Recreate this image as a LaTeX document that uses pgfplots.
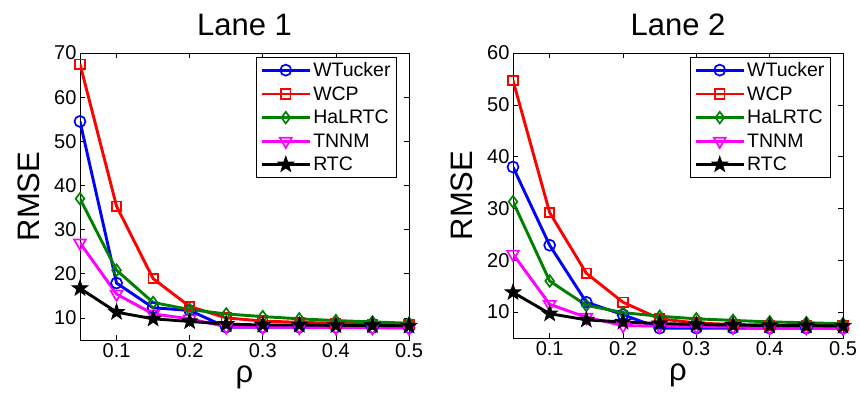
\documentclass[border=0pt]{standalone}
\usepackage{fontspec}
\setmainfont{Liberation Sans}
\usepackage{pgfplots}
\pgfplotsset{compat=1.18}
\definecolor{mgreen}{rgb}{0,0.5,0}
\definecolor{mblue}{rgb}{0,0,1}
\definecolor{mred}{rgb}{1,0,0}
\definecolor{mmag}{rgb}{1,0,1}
\pgfdeclareplotmark{fstar}{%
  \pgfpathmoveto{\pgfpointpolar{90}{1.5\pgfplotmarksize}}%
  \pgfpathlineto{\pgfpointpolar{126}{0.6\pgfplotmarksize}}%
  \pgfpathlineto{\pgfpointpolar{162}{1.5\pgfplotmarksize}}%
  \pgfpathlineto{\pgfpointpolar{198}{0.6\pgfplotmarksize}}%
  \pgfpathlineto{\pgfpointpolar{234}{1.5\pgfplotmarksize}}%
  \pgfpathlineto{\pgfpointpolar{270}{0.6\pgfplotmarksize}}%
  \pgfpathlineto{\pgfpointpolar{306}{1.5\pgfplotmarksize}}%
  \pgfpathlineto{\pgfpointpolar{342}{0.6\pgfplotmarksize}}%
  \pgfpathlineto{\pgfpointpolar{18}{1.5\pgfplotmarksize}}%
  \pgfpathlineto{\pgfpointpolar{54}{0.6\pgfplotmarksize}}%
  \pgfpathclose
  \pgfusepathqfillstroke}
\pgfplotsset{
  rmse/.style={
    scale only axis,
    xmin=0.05, xmax=0.5, ymin=5,
    xtick={0.1,0.2,0.3,0.4,0.5},
    xticklabels={0.1,0.2,0.3,0.4,0.5},
    tick align=inside,
    major tick length=5pt,
    axis line style={line width=0.8pt},
    every tick/.style={black, line width=0.6pt},
    tick label style={font=\fontsize{20}{22}\selectfont},
    /pgf/number format/assume math mode=true,
    xlabel={\fontsize{31}{33}\selectfont ρ},
    ylabel={\fontsize{31}{33}\selectfont RMSE},
    title style={font=\fontsize{31}{33}\selectfont, yshift=8pt},
    xlabel style={yshift=-1pt},
    ylabel style={yshift=8pt},
    legend style={at={(0.963,0.986)}, anchor=north east, font=\fontsize{19.5}{22}\selectfont,
      draw=black, line width=0.6pt, inner xsep=4pt, inner ysep=3pt, row sep=4.5pt,
      /tikz/every even column/.style={column sep=2pt}},
    legend cell align=left,
    legend image code/.code={\draw[mark repeat=2,mark phase=2] plot coordinates {(0pt,0pt)(24pt,0pt)(48pt,0pt)};},
    mark size=5.5pt,
    cycle list={
      {mblue, line width=2.9pt, mark=o, mark options={line width=1.7pt, solid}},
      {mred, line width=2.9pt, mark=square, mark options={line width=1.7pt, solid, scale=0.85}},
      {mgreen, line width=2.9pt, mark=diamond, mark options={line width=1.7pt, solid, scale=1.05}},
      {mmag, line width=2.9pt, mark=triangle, mark options={line width=1.7pt, solid, rotate=180, scale=1.25}},
      {black, line width=2.9pt, mark=fstar, mark options={line width=0.8pt, solid, fill=black}}
    },
  }
}
\begin{document}
\begin{tikzpicture}
\useasboundingbox (0pt,0pt) rectangle (860pt,402pt);
\begin{axis}[rmse, at={(80pt,62pt)}, anchor=south west, width=329pt, height=287pt,
  ymax=70, ytick={10,20,30,40,50,60,70}, title={Lane 1}]
\addplot coordinates {(0.05,54.5)(0.1,17.9)(0.15,12.3)(0.2,11.7)(0.25,7.9)(0.3,7.9)(0.35,7.9)(0.4,7.9)(0.45,7.8)(0.5,7.8)};
\addplot coordinates {(0.05,67.5)(0.1,35.3)(0.15,18.9)(0.2,12.6)(0.25,10.0)(0.3,9.3)(0.35,9.0)(0.4,8.8)(0.45,8.6)(0.5,8.5)};
\addplot coordinates {(0.05,37)(0.1,20.8)(0.15,13.5)(0.2,11.9)(0.25,10.9)(0.3,10.3)(0.35,9.8)(0.4,9.4)(0.45,9.1)(0.5,8.8)};
\addplot coordinates {(0.05,27)(0.1,15.4)(0.15,10.9)(0.2,9.8)(0.25,8.0)(0.3,7.9)(0.35,7.9)(0.4,7.8)(0.45,7.8)(0.5,7.7)};
\addplot coordinates {(0.05,16.7)(0.1,11.3)(0.15,9.8)(0.2,9.2)(0.25,8.6)(0.3,8.4)(0.35,8.4)(0.4,8.3)(0.45,8.3)(0.5,8.2)};
\legend{WTucker,WCP,HaLRTC,TNNM,RTC}
\end{axis}
\begin{axis}[rmse, at={(513pt,64pt)}, anchor=south west, width=330pt, height=285pt,
  ymax=60, ytick={10,20,30,40,50,60}, title={Lane 2}]
\addplot coordinates {(0.05,38)(0.1,22.9)(0.15,11.9)(0.2,9.5)(0.25,6.9)(0.3,6.9)(0.35,6.9)(0.4,6.9)(0.45,6.9)(0.5,6.9)};
\addplot coordinates {(0.05,54.7)(0.1,29.2)(0.15,17.5)(0.2,11.9)(0.25,8.7)(0.3,7.9)(0.35,7.6)(0.4,7.5)(0.45,7.4)(0.5,7.4)};
\addplot coordinates {(0.05,31.3)(0.1,16.0)(0.15,11.3)(0.2,9.9)(0.25,9.2)(0.3,8.7)(0.35,8.4)(0.4,8.1)(0.45,7.95)(0.5,7.75)};
\addplot coordinates {(0.05,21.2)(0.1,11.5)(0.15,9.0)(0.2,7.4)(0.25,7.3)(0.3,7.2)(0.35,7.1)(0.4,7.0)(0.45,7.0)(0.5,6.9)};
\addplot coordinates {(0.05,13.8)(0.1,9.7)(0.15,8.5)(0.2,8.1)(0.25,7.8)(0.3,7.6)(0.35,7.5)(0.4,7.4)(0.45,7.4)(0.5,7.3)};
\legend{WTucker,WCP,HaLRTC,TNNM,RTC}
\end{axis}
\end{tikzpicture}
\end{document}
